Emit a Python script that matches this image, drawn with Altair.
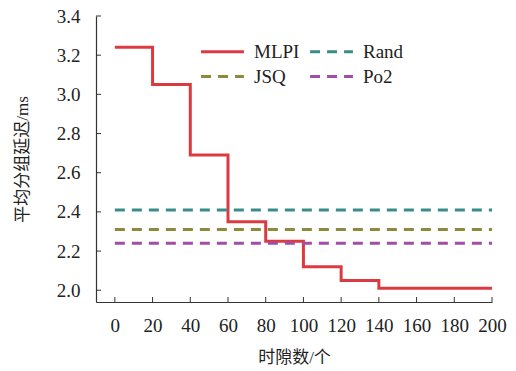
import altair as alt
import pandas as pd

slots = [0, 20, 40, 60, 80, 100, 120, 140, 200]
mlpi = [3.24, 3.05, 2.69, 2.35, 2.25, 2.12, 2.05, 2.01, 2.01]
rand_v = 2.41
jsq_v = 2.31
po2_v = 2.24
series = ["MLPI", "Rand", "JSQ", "Po2"]
legend_order = ["MLPI", "JSQ", "Rand", "Po2"]
colors = ["#dc3a40", "#3a8c8a", "#8c8a3c", "#a04ea6"]
dashes = [[1, 0], [10, 7], [10, 7], [10, 7]]
x_ticks = [0, 20, 40, 60, 80, 100, 120, 140, 160, 180, 200]
y_ticks = [2.0, 2.2, 2.4, 2.6, 2.8, 3.0, 3.2, 3.4]

rows = []
for s, v in zip(slots, mlpi):
    rows.append({"t": s, "v": v, "s": "MLPI"})
for name, val in [("Rand", rand_v), ("JSQ", jsq_v), ("Po2", po2_v)]:
    rows.append({"t": 0, "v": val, "s": name})
    rows.append({"t": 200, "v": val, "s": name})
df = pd.DataFrame(rows)

FONT = "Liberation Serif, Noto Sans CJK SC"
xs = alt.Scale(domain=[-10, 200], nice=False, zero=False)
ys = alt.Scale(domain=[1.94, 3.4], nice=False, zero=False)
x_axis = alt.Axis(values=x_ticks, title="时隙数/个", ticks=False, grid=False,
                  labelPadding=14, titlePadding=14, labelOverlap=False)
y_axis = alt.Axis(values=y_ticks, format=".1f", title="平均分组延迟/ms", ticks=False,
                  grid=False, labelPadding=16, titlePadding=25, labelOverlap=False)

lines = alt.Chart(df).mark_line(strokeWidth=3, interpolate="step-after").encode(
    x=alt.X("t:Q", scale=xs, axis=x_axis),
    y=alt.Y("v:Q", scale=ys, axis=y_axis),
    color=alt.Color("s:N", scale=alt.Scale(domain=series, range=colors),
                    legend=alt.Legend(title=None, orient="none", legendX=114, legendY=23,
                                      values=legend_order,
                                      columns=2, symbolType="M-2,0L2,0", symbolStrokeWidth=3,
                                      symbolSize=460, labelFontSize=19, labelFont=FONT,
                                      labelColor="#222", rowPadding=2, columnPadding=4,
                                      labelOffset=19)),
    strokeDash=alt.StrokeDash("s:N", scale=alt.Scale(domain=series, range=dashes), legend=None),
    order=alt.Order("t:Q"),
)

ydf = pd.DataFrame({"y": y_ticks})
xdf = pd.DataFrame({"x": x_ticks})
yt = alt.Chart(ydf).mark_rule(color="#333", strokeWidth=1).encode(
    y=alt.Y("y:Q", scale=ys, axis=y_axis), x=alt.value(0), x2=alt.value(5))
xt = alt.Chart(xdf).mark_rule(color="#333", strokeWidth=1).encode(
    x=alt.X("x:Q", scale=xs, axis=x_axis), y=alt.value(286), y2=alt.value(281))

chart = alt.layer(lines, yt, xt).properties(
    width=396, height=286,
    background="white",
    autosize=alt.AutoSizeParams(type="none"),
    padding={"left": 96, "top": 16, "right": 24, "bottom": 69},
).configure_view(stroke=None).configure_axis(
    domainColor="#333", domainWidth=1.2, labelFont=FONT, titleFont=FONT,
    labelFontSize=19, titleFontSize=17, labelColor="#222", titleColor="#222",
    titleFontWeight="normal", labelFlush=False,
)

chart.save("out.html", embed_options={"renderer": "svg", "actions": False})
